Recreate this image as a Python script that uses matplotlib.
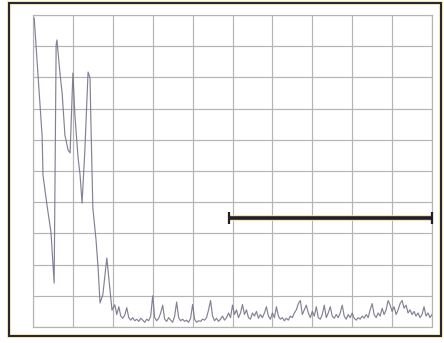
import numpy as np
import matplotlib
matplotlib.use("Agg")
import matplotlib.pyplot as plt
from matplotlib.patches import Rectangle

# ---- data (axis units 0..10 on both axes) ----
decay_x = [0.03, 0.10, 0.18, 0.23, 0.25, 0.35, 0.45, 0.53, 0.58, 0.60, 0.68, 0.73,
           0.80, 0.88, 0.93, 1.00, 1.05, 1.13, 1.18, 1.23, 1.30, 1.38, 1.43, 1.45,
           1.50, 1.58, 1.63, 1.68, 1.75, 1.85, 1.93, 1.98, 2.05]
decay_y = [9.90, 8.56, 7.02, 6.09, 4.87, 3.91, 3.04, 1.41, 9.04, 9.20, 8.08, 7.50,
           6.15, 5.67, 5.58, 8.14, 6.79, 5.42, 4.87, 3.97, 5.67, 8.17, 7.98, 6.63,
           3.81, 2.79, 1.92, 0.77, 1.03, 2.21, 1.19, 0.54, 0.71]

noise_start = 2.10
noise_end = 10.0
noise_y = [
    0.40, 0.65, 0.35, 0.28, 0.38, 0.62, 0.30, 0.22, 0.30, 0.20, 0.25, 0.18, 0.28, 0.22, 0.15, 0.25, 0.20, 0.35, 1.00, 0.30,
    0.20, 0.28, 0.45, 0.70, 0.25, 0.18, 0.30, 0.22, 0.15, 0.35, 0.80, 0.30, 0.20, 0.25, 0.18, 0.22, 0.15, 0.28, 0.72, 0.25,
    0.15, 0.20, 0.18, 0.25, 0.22, 0.30, 0.55, 0.85, 0.35, 0.20, 0.28, 0.18, 0.25, 0.35, 0.22, 0.30, 0.45, 0.30, 0.70, 0.40,
    0.55, 0.30, 0.45, 0.72, 0.40, 0.55, 0.30, 0.25, 0.45, 0.35, 0.50, 0.28, 0.40, 0.30, 0.45, 0.65, 0.35, 0.25, 0.45, 0.30,
    0.65, 0.35, 0.25, 0.30, 0.20, 0.28, 0.22, 0.35, 0.30, 0.45, 0.55, 0.75, 0.85, 0.40, 0.55, 0.70, 0.45, 0.30, 0.50, 0.35,
    0.65, 0.30, 0.25, 0.40, 0.70, 0.30, 0.45, 0.65, 0.35, 0.28, 0.40, 0.30, 0.45, 0.70, 0.35, 0.25, 0.40, 0.30, 0.45, 0.28,
    0.22, 0.30, 0.25, 0.35, 0.28, 0.40, 0.30, 0.55, 0.75, 0.40, 0.30, 0.45, 0.35, 0.60, 0.40, 0.55, 0.85, 0.70, 0.50, 0.65,
    0.40, 0.55, 0.75, 0.85, 0.60, 0.70, 0.45, 0.55, 0.40, 0.50, 0.35, 0.45, 0.30, 0.40, 0.65, 0.35, 0.45, 0.30, 0.40,
]

bar_start = 4.9
bar_end = 10.0
bar_level = 3.5

grid_ticks = list(range(0, 11))

# ---- figure ----
W, H = 444, 343
fig = plt.figure(figsize=(W / 100, H / 100), dpi=100)
fig.patch.set_facecolor("white")

# outer scanned frame
fig.add_artist(Rectangle((9 / W, 1 - 336 / H), 432 / W, 333 / H, transform=fig.transFigure,
                         fill=False, edgecolor="#f6eebb", linewidth=3.0, zorder=0))
fig.add_artist(Rectangle((9 / W, 1 - 336 / H), 432 / W, 333 / H, transform=fig.transFigure,
                         fill=False, edgecolor="#2a2632", linewidth=1.5, zorder=1))

ax = fig.add_axes([33 / W, 1 - 327 / H, 399 / W, 312 / H])
ax.set_facecolor("white")
ax.set_xlim(0, 10)
ax.set_ylim(0, 10)
ax.set_xticks(grid_ticks)
ax.set_yticks(grid_ticks)
ax.tick_params(length=0, labelbottom=False, labelleft=False)
ax.grid(True, color="#b4b4b4", linewidth=0.85)
for s in ax.spines.values():
    s.set_color("#b4b4b4")
    s.set_linewidth(0.85)

noise_x = np.linspace(noise_start, noise_end, len(noise_y))
xs = list(decay_x) + list(noise_x)
ys = list(decay_y) + list(noise_y)
ax.plot(xs, ys, color="#76748a", linewidth=0.85, alpha=0.9, zorder=3)

# horizontal bar with end caps
ax.plot([bar_start, bar_end], [bar_level, bar_level], color="#f0e090",
        linewidth=4.0, solid_capstyle="butt", zorder=4, clip_on=False)
ax.plot([bar_start, bar_end], [bar_level, bar_level], color="#221c2c",
        linewidth=2.6, solid_capstyle="butt", zorder=5, clip_on=False)
ax.vlines([bar_start, bar_end], bar_level - 0.2, bar_level + 0.2, color="#221c2c",
          linewidth=1.6, zorder=5, clip_on=False)

fig.savefig("out.png", dpi=100, facecolor="white")
